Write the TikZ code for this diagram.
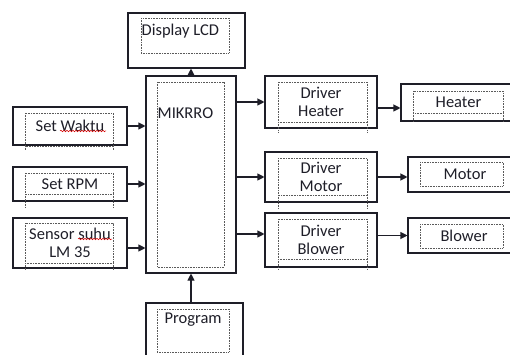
\documentclass[tikz,border=0pt]{standalone}
\usepackage{fontspec}
\setmainfont{Carlito}
\usetikzlibrary{positioning,arrows.meta,decorations.pathmorphing}
\definecolor{ink}{RGB}{30,30,40}
\definecolor{frm}{RGB}{90,90,90}
\tikzset{
  every node/.style={font=\fontsize{16.5}{18}\selectfont, text=ink},
  blk/.style={draw=ink, line width=1.1pt, inner sep=0pt, align=center},
  txt/.style={inner sep=0pt},
  frame/.style={draw=frm, line width=0.6pt, dash pattern=on 0.8pt off 0.8pt},
  arr/.style={draw=ink, line width=1.1pt, -{Triangle[length=7pt,width=7pt]}},
  spell/.style={draw=red!85!black, line width=0.5pt, decorate,
    decoration={snake, amplitude=0.8pt, segment length=3pt}}
}
\begin{document}
\begin{tikzpicture}[x=1pt, y=-1pt]
  \useasboundingbox (0,0) rectangle (510,355);

  % outer boxes
  \node[blk, minimum width=117pt, minimum height=55pt] (lcd) at (186.5,40.5) {};
  \node[blk, minimum width=90pt, minimum height=197pt] (mcu) at (191,174.5) {};
  \node[blk, minimum width=97pt, minimum height=59pt] (prog) at (194.5,332.5) {};

  \node[blk, minimum width=114pt, minimum height=38pt] (waktu) at (70,126) {Set Waktu};
  \node[blk, minimum width=114pt, minimum height=34pt] (rpm) at (70,184) {Set RPM};
  \node[blk, minimum width=114pt, minimum height=50pt] (sensor) at (70,243) {Sensor suhu\\LM 35};

  \node[blk, minimum width=112pt, minimum height=52pt] (drvh) at (321,102) {Driver\\Heater};
  \node[blk, minimum width=112pt, minimum height=50pt] (drvm) at (321,177) {Driver\\Motor};
  \node[blk, minimum width=112pt, minimum height=54pt] (drvb) at (321,240) {Driver\\Blower};

  \node[blk, minimum width=115pt, minimum height=37pt] (heater) at (458.5,102.5) {Heater};
  \node[blk, minimum width=114pt, minimum height=35pt] (motor) at (465,174.5) {Motor};
  \node[blk, minimum width=112pt, minimum height=35pt] (blower) at (464,235.5) {Blower};

  % labels not centred
  \node[txt, anchor=north west] (lcdtxt) at ([xshift=14pt,yshift=-11pt]lcd.north west) {Display LCD};
  \node[txt, anchor=north west] (mcutxt) at ([xshift=12pt,yshift=-32pt]mcu.north west) {MIKRRO};
  \node[txt, anchor=north west] (progtxt) at ([xshift=19pt,yshift=-10pt]prog.north west) {Program};

  % dotted text frames
  \foreach \xa/\ya/\xb/\yb/\ye in {141/18/229/53/53, 157/82/224/267/267, 157/309/229/352/352,
      25/113/113/146/150, 25/173/113/194/207, 25/223/113/263/270,
      278/82/367/122/132, 278/158/367/195/208, 278/219/367/259/270,
      413/91/503/113/122, 420/162/503/186/186, 420/224/503/248/248} {
    \draw[frame] (\xa,\ya) rectangle (\xb,\yb);
    \draw[frame] (\xa,\yb) -- (\xa,\ye) (\xb,\yb) -- (\xb,\ye);
  }

  % spelling marks
  \draw[spell] (60,131) -- (106,131);
  \draw[spell] (78,239) -- (112,239);

  % connectors
  \draw[arr] (mcu.north) -- (mcu.north |- lcd.south);
  \draw[arr] (prog.north -| mcu.south) -- (mcu.south);
  \draw[arr] (waktu.east) -- (waktu.east -| mcu.west);
  \draw[arr] (rpm.east) -- (rpm.east -| mcu.west);
  \draw[arr] ([yshift=-5pt]sensor.east) -- ([yshift=-5pt]sensor.east -| mcu.west);
  \draw[arr] (mcu.east |- drvh.west) -- (drvh.west);
  \draw[arr] (mcu.east |- drvm.west) -- (drvm.west);
  \draw[arr] ([yshift=6pt]mcu.east |- drvb.west) -- ([yshift=6pt]drvb.west);
  \draw[arr] ([yshift=-6pt]drvh.east) -- ([yshift=-6pt]drvh.east -| heater.west);
  \draw[arr] (drvm.east) -- (drvm.east -| motor.west);
  \draw[arr] (drvb.east |- blower.west) -- (blower.west);
\end{tikzpicture}
\end{document}
